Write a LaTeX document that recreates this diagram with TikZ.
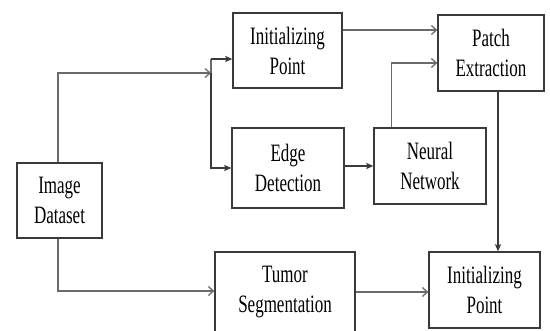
\documentclass[tikz,border=0pt]{standalone}
\usepackage{fontspec}
\setmainfont[FakeStretch=0.68]{Liberation Serif}
\usetikzlibrary{arrows.meta}
\definecolor{boxline}{HTML}{3A3A3A}
\definecolor{wire}{HTML}{6A6A6A}
\tikzset{
  block/.style={draw=boxline, line width=1.3pt, align=center, inner sep=0pt,
    font=\fontsize{25}{30}\selectfont, text=black},
  wire/.style={draw=wire, line width=1.4pt},
  openhead/.style={wire, -{Straight Barb[length=5pt,width=9pt,line width=1.3pt]}},
  solidhead/.style={wire, -{Stealth[length=7pt,width=6pt,inset=1pt]}, draw=boxline}
}
\begin{document}
\begin{tikzpicture}[x=1pt,y=-1pt]
\useasboundingbox[fill=white] (0,0) rectangle (550,330);

% blocks
\node[block, minimum width=85pt, minimum height=75pt] (img) at (59.5,200.5) {Image\\Dataset};
\node[block, minimum width=109pt, minimum height=75pt] (initA) at (287.5,50.5) {Initializing\\Point};
\node[block, minimum width=112pt, minimum height=80pt] (edge) at (288,168) {Edge\\Detection};
\node[block, minimum width=112pt, minimum height=76pt] (nn) at (430,166) {Neural\\Network};
\node[block, minimum width=106pt, minimum height=76pt] (patch) at (491,53) {Patch\\Extraction};
\node[block, minimum width=140pt, minimum height=80pt] (tumor) at (285,292) {Tumor\\Segmentation};
\node[block, minimum width=111pt, minimum height=76pt] (initB) at (484.5,290) {Initializing\\Point};

% junction points of the branching wires
\coordinate (split) at (211,73);
\coordinate (initIn) at ([yshift=-8.5pt]initA.west);
\coordinate (initOut) at ([yshift=20.5pt]initA.east);
\coordinate (nnOut) at ([xshift=18pt]nn.north west);
\coordinate (patchIn) at (patch.west |- 0,63);
\coordinate (patchOut) at ([xshift=7pt]patch.south);
\coordinate (imgOut) at ([xshift=-1.5pt]img.south);
\coordinate (tumorIn) at ([yshift=1pt]tumor.west);

% connectors
\draw[openhead] ([xshift=-1.5pt]img.north) |- (split);
\draw[wire] (split) -- (211,59);
\draw[solidhead] (211,59) -- (initIn);
\draw[solidhead] (split) |- (edge.west);
\draw[openhead] (initOut) -- (initOut -| patch.west);
\draw[solidhead] (edge.east |- nn.west) -- (nn.west);
\draw[openhead] (nnOut) |- (patchIn);
\draw[solidhead] (patchOut) -- (patchOut |- initB.north);
\draw[openhead] (imgOut) |- (tumorIn);
\draw[openhead] (tumor.east) -- (tumor.east -| initB.west);
\end{tikzpicture}
\end{document}
